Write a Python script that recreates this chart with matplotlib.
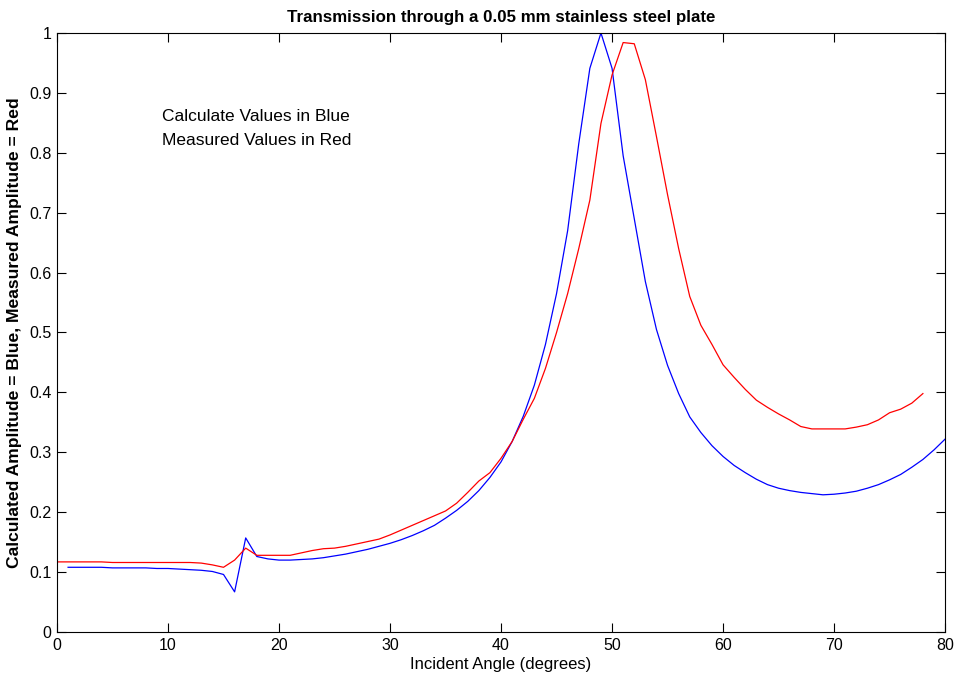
import matplotlib
matplotlib.use("Agg")
import matplotlib.pyplot as plt
import numpy as np

angles_calc = list(range(1, 81))
calc_amp = [0.108, 0.108, 0.108, 0.108, 0.107, 0.107, 0.107, 0.107, 0.106,
            0.106, 0.105, 0.104, 0.103, 0.101, 0.096, 0.067, 0.157, 0.126, 0.122,
            0.120, 0.120, 0.121, 0.122, 0.124, 0.127, 0.130, 0.134, 0.138, 0.143,
            0.148, 0.154, 0.161, 0.169, 0.178, 0.190, 0.203, 0.218, 0.236, 0.258,
            0.284, 0.318, 0.360, 0.412, 0.480, 0.565, 0.670, 0.815, 0.941, 1.000,
            0.941, 0.795, 0.690, 0.585, 0.505, 0.445, 0.398, 0.359, 0.333, 0.311,
            0.293, 0.278, 0.266, 0.255, 0.246, 0.240, 0.236, 0.233, 0.231, 0.229,
            0.230, 0.232, 0.235, 0.240, 0.246, 0.254, 0.263, 0.275, 0.288, 0.304,
            0.322]

angles_meas = list(range(0, 79))
meas_amp = [0.117, 0.117, 0.117, 0.117, 0.117, 0.116, 0.116, 0.116, 0.116, 0.116,
            0.116, 0.116, 0.116, 0.115, 0.112, 0.108, 0.120, 0.140, 0.128, 0.128,
            0.128, 0.128, 0.132, 0.136, 0.139, 0.140, 0.143, 0.147, 0.151, 0.155,
            0.162, 0.170, 0.178, 0.186, 0.194, 0.202, 0.215, 0.233, 0.252, 0.266,
            0.290, 0.318, 0.355, 0.390, 0.440, 0.500, 0.565, 0.640, 0.721, 0.849,
            0.930, 0.984, 0.982, 0.922, 0.827, 0.730, 0.640, 0.560, 0.512, 0.480,
            0.446, 0.425, 0.405, 0.387, 0.375, 0.364, 0.354, 0.343, 0.339, 0.339,
            0.339, 0.339, 0.342, 0.346, 0.354, 0.366, 0.372, 0.382, 0.398]

x_ticks = [0, 10, 20, 30, 40, 50, 60, 70, 80]
y_ticks = [0, 0.1, 0.2, 0.3, 0.4, 0.5, 0.6, 0.7, 0.8, 0.9, 1.0]
y_tick_labels = ["0", "0.1", "0.2", "0.3", "0.4", "0.5", "0.6", "0.7", "0.8", "0.9", "1"]

plt.rcParams['font.family'] = ['Liberation Sans', 'DejaVu Sans']

fig = plt.figure(figsize=(9.56, 6.77), dpi=100)
ax = fig.add_axes([0.0596, 0.0665, 0.929, 0.8848])

ax.plot(angles_calc, calc_amp, color=(0, 0, 1), lw=0.9)
ax.plot(angles_meas, meas_amp, color=(1, 0, 0), lw=0.9)

ax.set_xlim(0, 80)
ax.set_ylim(0, 1)
ax.set_xticks(x_ticks)
ax.set_xticklabels([str(t) for t in x_ticks], fontsize=11.5)
ax.set_yticks(y_ticks)
ax.set_yticklabels(y_tick_labels, fontsize=11.5)
ax.tick_params(direction='in', top=True, right=True, length=6.5, width=0.8, pad=4)
for s in ax.spines.values():
    s.set_linewidth(0.8)

ax.set_title("Transmission through a 0.05 mm stainless steel plate",
             fontsize=12.2, fontweight='bold', pad=8)
ax.set_xlabel("Incident Angle (degrees)", fontsize=12, labelpad=3)
ax.set_ylabel("Calculated Amplitude = Blue, Measured Amplitude = Red",
              fontsize=12.6, fontweight='bold', labelpad=5)

ax.text(9.5, 0.86, "Calculate Values in Blue", fontsize=12.5, va='center', ha='left')
ax.text(9.5, 0.821, "Measured Values in Red", fontsize=12.5, va='center', ha='left')

fig.savefig("out.png", dpi=100)
